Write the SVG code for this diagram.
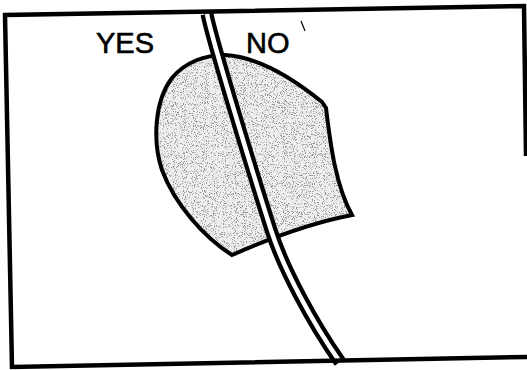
<svg xmlns="http://www.w3.org/2000/svg" width="527" height="370" viewBox="0 0 527 370">
<style>
.frame{fill:none;stroke:#000;stroke-width:4.5;stroke-linejoin:miter}
.outline{fill:none;stroke:#000;stroke-width:4;stroke-linejoin:miter}
.road-outer{fill:none;stroke:#000;stroke-width:13}
.road-inner{fill:none;stroke:#fff;stroke-width:4.5}
.label{font-family:"Liberation Sans",Arial,sans-serif;font-size:29px;fill:#000;stroke:#000;stroke-width:0.6}
</style>
<defs>
<clipPath id="blobClip">
<path id="blobShape" d="M232,255 C205,238 175,205 162,170 C152,140 155,100 172,78 C185,62 205,55 225,55 C260,57 295,80 322,102 L326,108 C330,140 335,185 352,215 Q300,225 232,255 Z"/>
</clipPath>
<filter id="stipple" x="0" y="0" width="1" height="1" filterUnits="objectBoundingBox">
<feTurbulence type="fractalNoise" baseFrequency="0.9" numOctaves="2" seed="7" result="n"/>
<feColorMatrix in="n" type="matrix" values="0 0 0 0 0.3  0 0 0 0 0.3  0 0 0 0 0.3  9 0 0 0 -5.0"/>
</filter>
</defs>
<rect x="0" y="0" width="527" height="370" fill="#fff"/>
<g id="shaded-region">
<path d="M232,255 C205,238 175,205 162,170 C152,140 155,100 172,78 C185,62 205,55 225,55 C260,57 295,80 322,102 L326,108 C330,140 335,185 352,215 Q300,225 232,255 Z" fill="#efefef"/>
<g clip-path="url(#blobClip)">
<rect x="150" y="50" width="210" height="210" fill="#000" filter="url(#stipple)"/>
</g>
<path class="outline" d="M232,255 C205,238 175,205 162,170 C152,140 155,100 172,78 C185,62 205,55 225,55 C260,57 295,80 322,102 L326,108 C330,140 335,185 352,215 Q300,225 232,255 Z"/>
</g>
<g id="connectors">
<path id="road" class="road-outer" d="M207,14 C212,40 255,180 271,230 C283,268 312,322 340,362"/>
<path class="road-inner" d="M207,14 C212,40 255,180 271,230 C283,268 312,322 340,362"/>
</g>
<g id="frame">
<path class="frame" d="M526,156 L524,6 L5,15 L12,367 L527,357"/>
</g>
<g id="label-yes">
<text class="label" x="96" y="53">YES</text>
</g>
<g id="label-no">
<text class="label" x="246" y="53">NO</text>
</g>
<line x1="301" y1="21" x2="305" y2="31" stroke="#000" stroke-width="1.2"/>
</svg>
